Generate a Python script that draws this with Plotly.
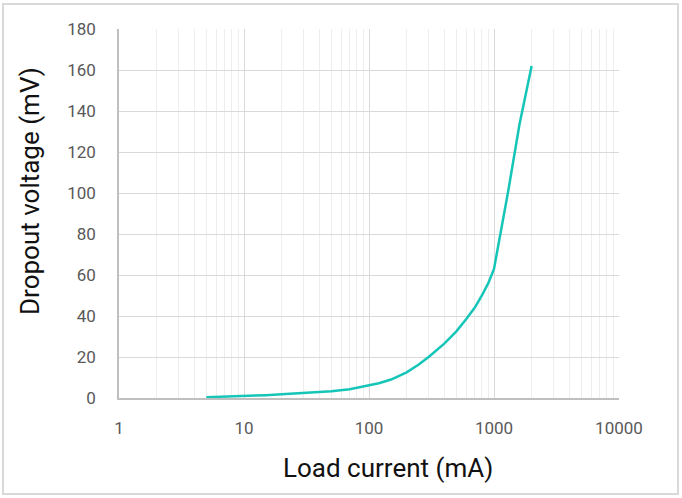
import plotly.graph_objects as go

current_ma = [5, 7, 10, 15, 20, 30, 50, 70, 100, 120, 150, 200, 250, 300, 400, 500, 600, 700, 800, 900, 1000, 1300, 1600, 2000]
dropout_mv = [0.4, 0.6, 0.9, 1.4, 1.8, 2.4, 3.3, 4.3, 6.0, 7.2, 9.0, 12.5, 16.3, 20.0, 26.5, 32.5, 38.5, 44.0, 50.0, 56.0, 63.0, 101.0, 133.5, 162.0]

x_tickvals = [1, 10, 100, 1000, 10000]
x_ticktext = ["1", "10", "100", "1000", "10000"]
y_tickvals = [0, 20, 40, 60, 80, 100, 120, 140, 160, 180]
x_title = "Load current (mA)"
y_title = "Dropout voltage (mV)"

fig = go.Figure()
fig.add_trace(go.Scatter(
    x=current_ma, y=dropout_mv, mode="lines",
    line=dict(color="#14C5B8", width=2.5),
    hoverinfo="skip", showlegend=False,
))

fig.update_layout(
    width=682, height=498,
    margin=dict(l=119, r=63, t=29, b=100),
    paper_bgcolor="white", plot_bgcolor="white",
    font=dict(family="Roboto, sans-serif", color="#595959"),
    xaxis=dict(
        type="log", range=[0, 4],
        tickvals=x_tickvals, ticktext=x_ticktext,
        tickfont=dict(size=17, color="#595959"),
        showgrid=True, gridcolor="#d9d9d9", gridwidth=1,
        minor=dict(dtick="D1", showgrid=True, gridcolor="#eeeeee", gridwidth=1, ticks=""),
        showline=True, linecolor="#bfbfbf", linewidth=1.5,
        ticks="", ticklabelstandoff=14, zeroline=False,
    ),
    yaxis=dict(
        range=[0, 180], tickvals=y_tickvals,
        tickfont=dict(size=17, color="#595959"),
        showgrid=True, gridcolor="#d9d9d9", gridwidth=1.2,
        showline=True, linecolor="#bfbfbf", linewidth=1.5,
        ticks="", ticklabelstandoff=18, zeroline=False,
    ),
    annotations=[
        dict(text=x_title, xref="paper", yref="paper", x=0.537, y=-0.19,
             xanchor="center", yanchor="middle", showarrow=False,
             font=dict(size=26, color="#111111")),
        dict(text=y_title, xref="paper", yref="paper", x=-0.178, y=0.561,
             xanchor="center", yanchor="middle", showarrow=False, textangle=-90,
             font=dict(size=26, color="#111111")),
    ],
    shapes=[dict(
        type="rect", xref="paper", yref="paper",
        x0=-0.232, x1=1.118, y0=-0.26, y1=1.068,
        line=dict(color="#d9d9d9", width=2), fillcolor="rgba(0,0,0,0)", layer="below",
    )],
)

fig.write_html("out.html")
